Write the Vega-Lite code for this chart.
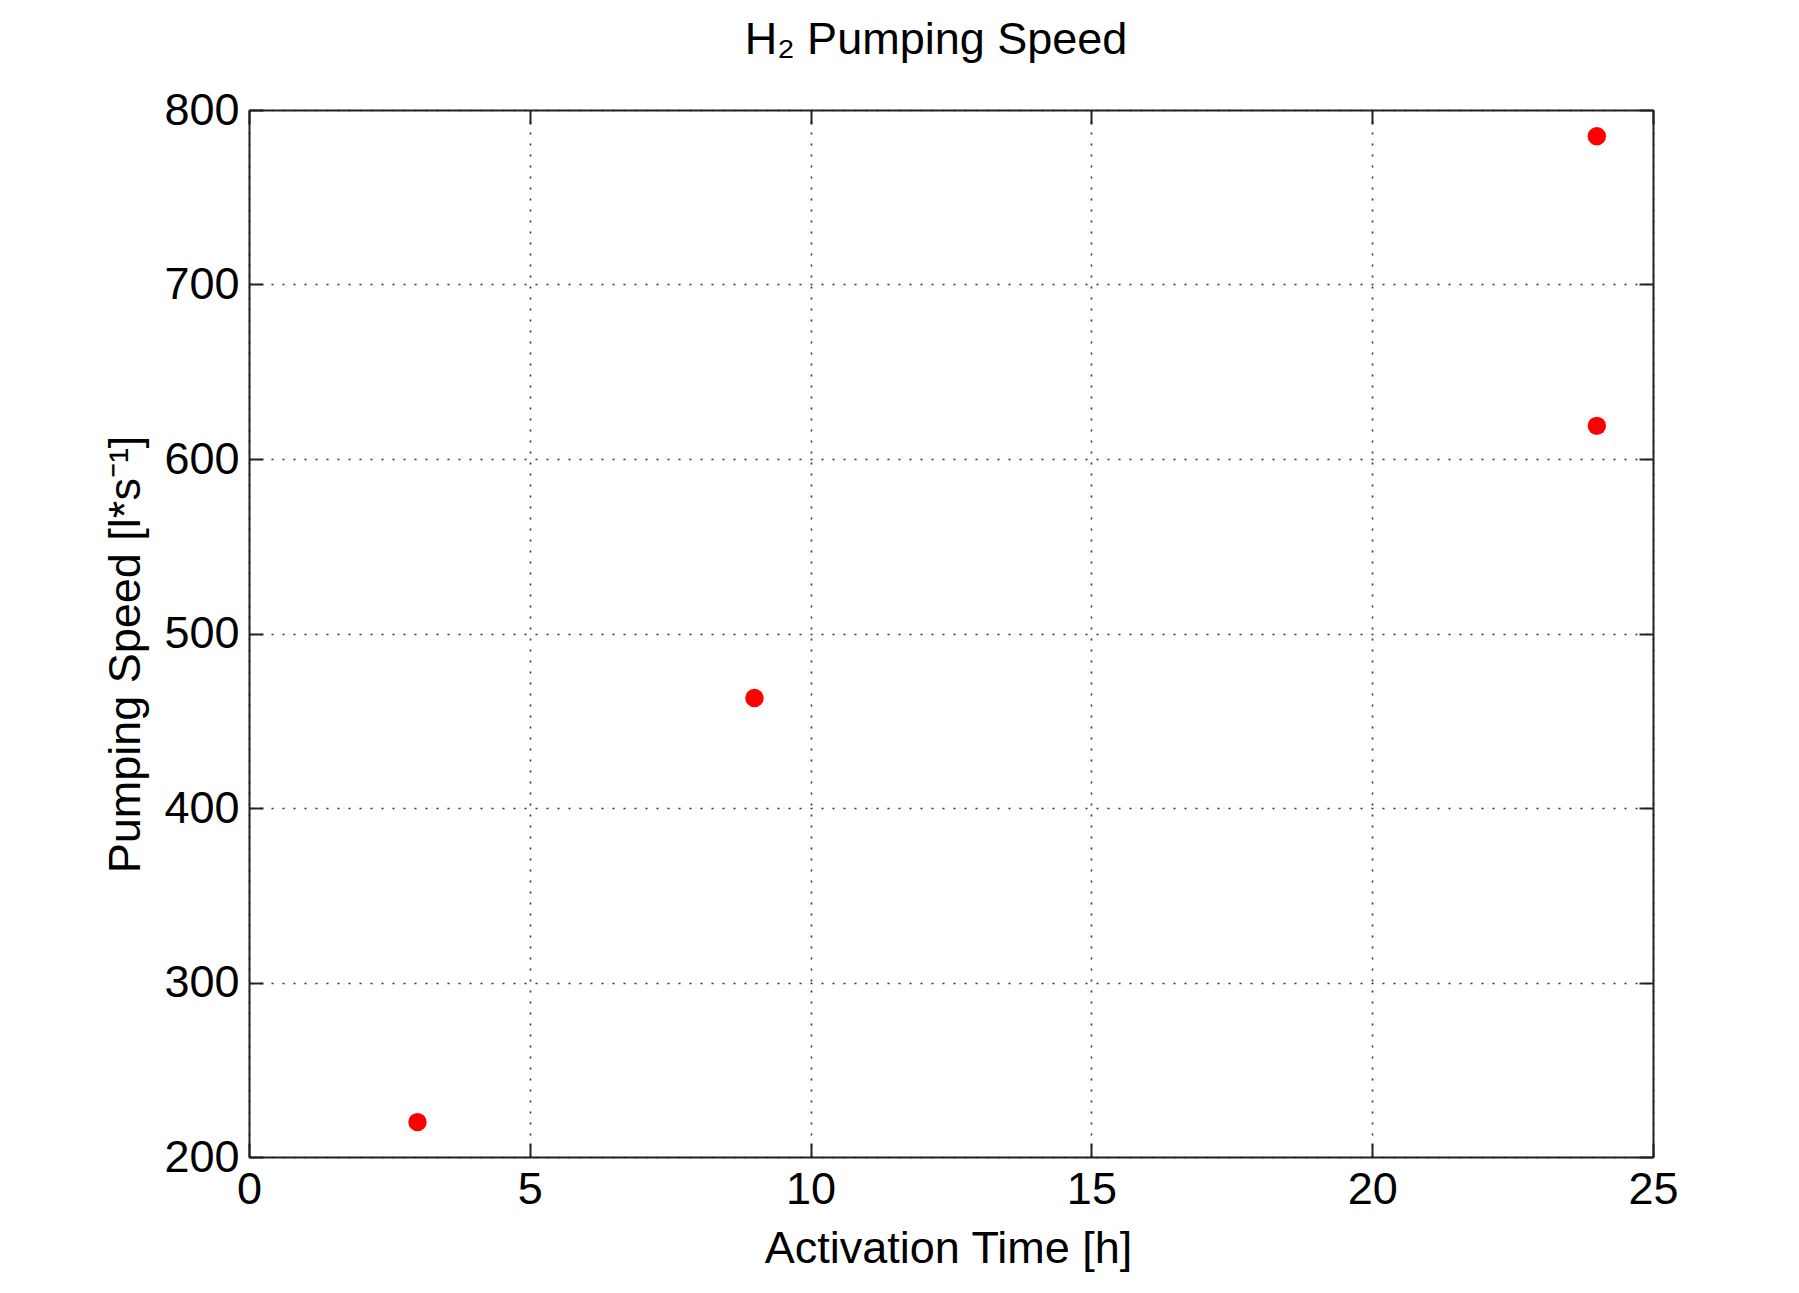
{
  "$schema": "https://vega.github.io/schema/vega-lite/v6.json",
  "autosize": {"type": "none"},
  "width": 1404,
  "height": 1047,
  "padding": {"left": 249, "top": 110, "right": 146, "bottom": 136},
  "background": "white",
  "config": {
    "font": "Liberation Sans",
    "view": {"stroke": null},
    "axis": {
      "labelFont": "Liberation Sans",
      "titleFont": "Liberation Sans",
      "labelFontSize": 45,
      "titleFontSize": 45,
      "labelColor": "#000000",
      "titleColor": "#000000",
      "titleFontWeight": "normal",
      "domainColor": "#222222",
      "domainWidth": 2,
      "tickColor": "#222222",
      "tickWidth": 2,
      "tickSize": -14,
      "labelPadding": 24,
      "labelFlush": false,
      "labelOverlap": false,
      "gridColor": "#333333",
      "gridWidth": 1.6,
      "gridDash": [2, 9],
      "gridOpacity": 1
    }
  },
  "title": {
    "text": "H₂ Pumping Speed",
    "font": "Liberation Sans",
    "fontSize": 45,
    "fontWeight": "normal",
    "color": "#000000",
    "anchor": "middle",
    "baseline": "alphabetic",
    "offset": -11,
    "dx": -15
  },
  "data": {
    "values": [
      {"time": 3, "speed": 220},
      {"time": 9, "speed": 463},
      {"time": 24, "speed": 785},
      {"time": 24, "speed": 619}
    ]
  },
  "resolve": {
    "scale": {"x": "independent", "y": "independent"},
    "axis": {"x": "independent", "y": "independent"}
  },
  "layer": [
    {
      "mark": {"type": "point", "opacity": 0},
      "encoding": {
        "x": {
          "field": "time", "type": "quantitative",
          "scale": {"domain": [0, 25], "nice": false, "zero": false},
          "axis": {"orient": "top", "labels": false, "title": null, "grid": false, "values": [0, 5, 10, 15, 20, 25]}
        },
        "y": {
          "field": "speed", "type": "quantitative",
          "scale": {"domain": [200, 800], "nice": false, "zero": false},
          "axis": {"orient": "right", "labels": false, "title": null, "grid": false, "values": [200, 300, 400, 500, 600, 700, 800]}
        }
      }
    },
    {
      "mark": {"type": "circle", "color": "#ff0000", "opacity": 1, "size": 340},
      "encoding": {
        "x": {
          "field": "time", "type": "quantitative",
          "scale": {"domain": [0, 25], "nice": false, "zero": false},
          "axis": {
            "orient": "bottom",
            "title": "Activation Time [h]",
            "values": [0, 5, 10, 15, 20, 25],
            "grid": true,
            "titleBaseline": "alphabetic",
            "titleY": 105,
            "titleX": 699
          }
        },
        "y": {
          "field": "speed", "type": "quantitative",
          "scale": {"domain": [200, 800], "nice": false, "zero": false},
          "axis": {
            "orient": "left",
            "title": "Pumping Speed [l*s⁻¹]",
            "values": [200, 300, 400, 500, 600, 700, 800],
            "grid": true,
            "titleBaseline": "alphabetic",
            "titleAngle": -90,
            "titleAlign": "center",
            "titleX": -110,
            "titleY": 544
          }
        }
      }
    }
  ]
}
